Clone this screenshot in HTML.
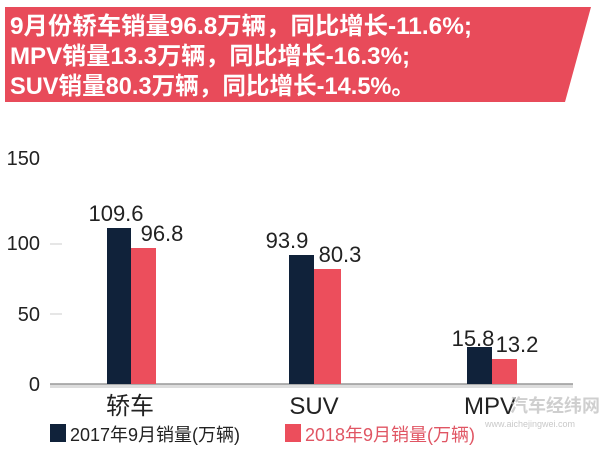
<!DOCTYPE html>
<html><head><meta charset="utf-8"><style>
body{margin:0;width:600px;height:450px;background:#fff;overflow:hidden;font-family:"Liberation Sans","Noto Sans CJK SC",sans-serif;}
svg{position:absolute;left:0;top:0}
</style></head><body>
<svg width="600" height="450" xmlns="http://www.w3.org/2000/svg" font-family="Liberation Sans, Noto Sans CJK SC, sans-serif">
<polygon points="5,7 591,7 565,102 5,102" fill="#e84b5a"/>
<g fill="#fff" font-weight="bold" font-size="24">
<text x="10" y="34" textLength="462" lengthAdjust="spacingAndGlyphs">9月份轿车销量96.8万辆，同比增长-11.6%;</text>
<text x="10" y="64" textLength="400" lengthAdjust="spacingAndGlyphs">MPV销量13.3万辆，同比增长-16.3%;</text>
<text x="10" y="94" textLength="405" lengthAdjust="spacingAndGlyphs">SUV销量80.3万辆，同比增长-14.5%。</text>
</g>
<g fill="#222" font-size="20">
<text x="40" y="165" text-anchor="end">150</text>
<text x="40" y="250" text-anchor="end">100</text>
<text x="40" y="321" text-anchor="end">50</text>
<text x="40" y="391" text-anchor="end">0</text>
</g>
<line x1="50" y1="244" x2="62" y2="244" stroke="#ccc"/>
<line x1="50" y1="314" x2="62" y2="314" stroke="#ccc"/>
<rect x="50" y="384" width="523" height="4" fill="#ddd"/>
<line x1="50" y1="384" x2="573" y2="384" stroke="#999" stroke-width="1.5"/>
<rect x="107" y="228" width="24" height="156" fill="#10223a"/>
<rect x="131" y="248" width="25" height="136" fill="#ec4e5c"/>
<rect x="289" y="255" width="25" height="129" fill="#10223a"/>
<rect x="314" y="269" width="27" height="115" fill="#ec4e5c"/>
<rect x="467" y="347" width="25" height="37" fill="#10223a"/>
<rect x="492" y="359" width="25" height="25" fill="#ec4e5c"/>
<g fill="#222" font-size="22">
<text x="116" y="221" text-anchor="middle">109.6</text>
<text x="162" y="241" text-anchor="middle">96.8</text>
<text x="287" y="248" text-anchor="middle">93.9</text>
<text x="340" y="262" text-anchor="middle">80.3</text>
<text x="473" y="346" text-anchor="middle">15.8</text>
<text x="517" y="352" text-anchor="middle">13.2</text>
<text x="130" y="414" text-anchor="middle" font-size="24">轿车</text>
<text x="314" y="414" text-anchor="middle" font-size="24">SUV</text>
<text x="490" y="414" text-anchor="middle" font-size="24">MPV</text>
</g>
<text x="510" y="412" fill="#bbb" font-size="18" font-weight="bold" opacity="0.7">汽车经纬网</text>
<text x="485" y="427" fill="#bbb" font-size="9" opacity="0.8">www.aichejingwei.com</text>
<rect x="50" y="424" width="16" height="18" fill="#10223a"/>
<text x="70" y="441" fill="#222" font-size="18">2017年9月销量(万辆)</text>
<rect x="285" y="424" width="16" height="18" fill="#ec4e5c"/>
<text x="305" y="441" fill="#e05563" font-size="18">2018年9月销量(万辆)</text>
</svg>
</body></html>
